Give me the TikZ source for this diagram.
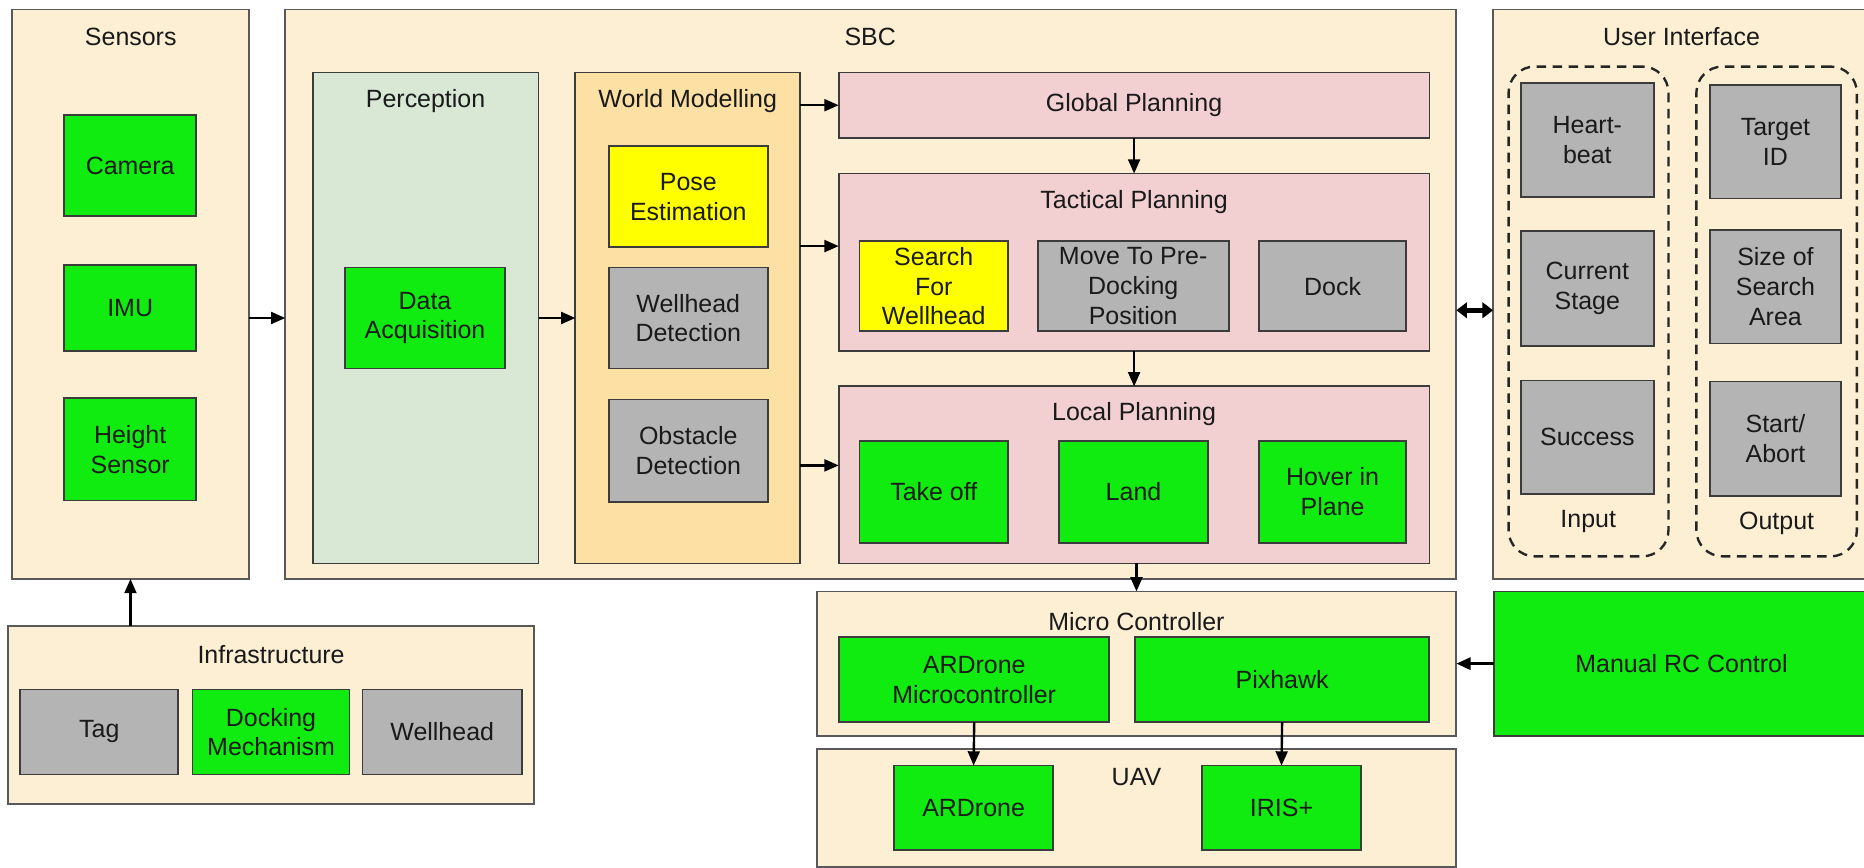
\documentclass[tikz,border=0pt]{standalone}
\usepackage{fontspec}
\setmainfont{Liberation Sans}
\usetikzlibrary{arrows.meta,calc}
\definecolor{peach}{HTML}{FCEFD3}
\definecolor{percc}{HTML}{D9E8D5}
\definecolor{wmc}{HTML}{FCE0A4}
\definecolor{pinkc}{HTML}{F2CFD0}
\definecolor{greenc}{RGB}{16,236,16}
\definecolor{grayc}{HTML}{B4B4B4}
\definecolor{yellowc}{HTML}{FFFF00}
\definecolor{bordc}{HTML}{3C3C3C}
\definecolor{txtc}{HTML}{1A1A1A}
\tikzset{
  base/.style={draw=bordc, line width=1.5pt, inner sep=0.5pt, outer sep=0pt, align=center,
    font=\fontsize{21}{25}\selectfont, text=txtc},
  cont/.style={base, fill=peach, draw=bordc!85},
  percs/.style={base, fill=percc},
  wms/.style={base, fill=wmc},
  pnk/.style={base, fill=pinkc},
  grn/.style={base, fill=greenc},
  gry/.style={base, fill=grayc},
  yel/.style={base, fill=yellowc},
  dsh/.style={draw=black!85, line width=2pt, dash pattern=on 8pt off 5.5pt, rounded corners=22pt, inner sep=0pt, outer sep=0pt},
  title/.style={font=\fontsize{21}{25}\selectfont, text=txtc, inner sep=0pt, align=center},
  arr/.style={-{Triangle[length=12pt,width=10pt]}, line width=2pt, draw=black},
  darr/.style={{Triangle[length=9pt,width=13pt]}-{Triangle[length=9pt,width=13pt]}, line width=4pt, draw=black}
}
\newcommand{\bx}[7]{\node[#6, anchor=north west, minimum width={#4-#2}, minimum height={#5-#3}] (#1) at (#2,#3) {#7};}
\begin{document}
\begin{tikzpicture}[x=1pt,y=-1pt]
\fill[white] (0,0) rectangle (1568,730);
\useasboundingbox (0,0) rectangle (1568,730);
% Sensors
\bx{sens}{10}{8}{209.5}{487}{cont}{}
\node[title] (sensT) at (110,31) {Sensors};
\bx{cam}{54}{97}{165}{182}{grn}{Camera}
\bx{imu}{54}{223}{165}{295}{grn}{IMU}
\bx{hgt}{54}{335}{165}{421}{grn}{Height\\Sensor}
% SBC
\bx{sbc}{240}{8}{1225}{487}{cont}{}
\node[title] (sbcT) at (732,31) {SBC};
\bx{perc}{263}{61}{453}{474}{percs}{}
\node[title] (percT) at (358,85) {Perception};
\bx{da}{290}{225}{425}{310}{grn}{Data\\Acquisition}
\bx{wm}{484}{61}{673}{474}{wms}{}
\node[title] (wmT) at (578.5,85) {World Modelling};
\bx{pose}{512}{123}{646}{208}{yel}{Pose\\Estimation}
\bx{wd}{512}{225}{646}{310}{gry}{Wellhead\\Detection}
\bx{od}{512}{336}{646}{422}{gry}{Obstacle\\Detection}
\bx{gp}{705.5}{61}{1202.5}{116}{pnk}{Global Planning}
\bx{tp}{705.5}{146}{1202.5}{295}{pnk}{}
\node[title] (tpT) at (954,170) {Tactical Planning};
\bx{sw}{723}{203}{848}{278.5}{yel}{Search\\For\\Wellhead}
\bx{mv}{873}{203}{1033.5}{278.5}{gry}{Move To Pre-\\Docking\\Position}
\bx{dock}{1059}{203}{1183}{278.5}{gry}{Dock}
\bx{lp}{705.5}{325}{1202.5}{474}{pnk}{}
\node[title] (lpT) at (954,348.5) {Local Planning};
\bx{to}{723}{371}{848}{456.5}{grn}{Take off}
\bx{land}{891}{371}{1016}{456.5}{grn}{Land}
\bx{hov}{1059}{371}{1183}{456.5}{grn}{Hover in\\Plane}
% User Interface
\bx{ui}{1256}{8}{1572}{487}{cont}{}
\node[title] (uiT) at (1414.5,31) {User Interface};
\bx{inp}{1269}{56}{1403.5}{468}{dsh}{}
\bx{outp}{1427}{56}{1562}{468}{dsh}{}
\bx{hb}{1279.5}{70}{1391}{165.5}{gry}{Heart-\\beat}
\bx{cs}{1279.5}{194.5}{1391}{291}{gry}{Current\\Stage}
\bx{suc}{1279.5}{320}{1391}{415.5}{gry}{Success}
\bx{tid}{1438.5}{71.5}{1548.5}{167}{gry}{Target\\ID}
\bx{ssa}{1438.5}{193.5}{1548.5}{289}{gry}{Size of\\Search\\Area}
\bx{sa}{1438.5}{321}{1548.5}{417}{gry}{Start/\\Abort}
\node[title] (inT) at (1336,439) {Input};
\node[title] (outT) at (1494.5,440) {Output};
% Infrastructure
\bx{inf}{7}{526.5}{449}{676}{cont}{}
\node[title] (infT) at (228,551) {Infrastructure};
\bx{tag}{17}{580}{150}{651.5}{gry}{Tag}
\bx{dm}{162}{580}{294}{651.5}{grn}{Docking\\Mechanism}
\bx{wh}{305}{580}{439}{651.5}{gry}{Wellhead}
% Micro Controller
\bx{mc}{687}{497.5}{1225}{619}{cont}{}
\node[title] (mcT) at (956,522.5) {Micro Controller};
\bx{ardmc}{706}{536}{933}{607.5}{grn}{ARDrone\\Microcontroller}
\bx{pix}{955}{536}{1202}{607.5}{grn}{Pixhawk}
\bx{man}{1257}{497.5}{1572}{619}{grn}{Manual RC Control}
% UAV
\bx{uav}{687}{630}{1225}{729}{cont}{}
\node[title] (uavT) at (956,653.5) {UAV};
\bx{ard}{752}{644}{886}{715}{grn}{ARDrone}
\bx{iris}{1011}{644}{1145}{715}{grn}{IRIS+}
% connectors
\coordinate (yT) at (0,207);
\coordinate (yL) at (0,391.5);
\coordinate (yU) at (0,261);
\draw[arr] (sens.east |- da) -- (sbc.west |- da);
\draw[arr] (perc.east |- da) -- (wm.west |- da);
\draw[arr] (wm.east |- gp) -- (gp.west);
\draw[arr] (wm.east |- yT) -- (tp.west |- yT);
\draw[arr] (wm.east |- yL) -- (lp.west |- yL);
\draw[arr] (gp.south) -- (tp.north);
\draw[arr] (tp.south) -- (lp.north);
\draw[arr] (mc.north |- lp.south) -- (mc.north);
\draw[darr] (sbc.east |- yU) -- (ui.west |- yU);
\draw[arr, line width=2.6pt] (man.west |- mc.east) -- (mc.east);
\draw[arr] (sens.south |- inf.north) -- (sens.south);
\draw[arr] (ardmc.south) -- (ard.north);
\draw[arr] (pix.south) -- (iris.north);
\end{tikzpicture}
\end{document}
